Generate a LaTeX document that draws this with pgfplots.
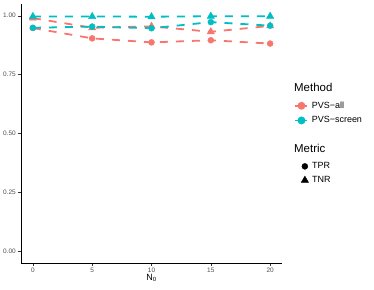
\documentclass[border=0pt]{standalone}
\usepackage{fontspec}
\setmainfont{Liberation Sans}
\usepackage{pgfplots}
\pgfplotsset{compat=1.18}
\usepackage{pgfplotstable}
\definecolor{cRed}{HTML}{F8766D}
\definecolor{cTeal}{HTML}{00BFC4}
\definecolor{gTick}{HTML}{4D4D4D}
\definecolor{gMark}{HTML}{333333}

\pgfplotstableread{
x tpr tnr
0 0.948 0.990
5 0.904 0.949
10 0.887 0.955
15 0.896 0.932
20 0.882 0.957
}\allData
\pgfplotstableread{
x tpr tnr
0 0.949 0.997
5 0.954 0.997
10 0.947 0.996
15 0.973 0.998
20 0.958 0.998
}\screenData

\begin{document}
\begin{tikzpicture}[x=1bp,y=1bp]
\useasboundingbox (0,0) rectangle (374,290);
\begin{axis}[
  at={(21bp,27bp)}, anchor=south west,
  scale only axis, width=261bp, height=259bp,
  xmin=-1, xmax=21, ymin=-0.05, ymax=1.05,
  axis x line*=bottom, axis y line*=left,
  axis line style={black, line width=0.8bp, -},
  xtick={0,5,10,15,20},
  ytick={0,0.25,0.5,0.75,1},
  yticklabels={0.00,0.25,0.50,0.75,1.00},
  tick align=outside, major tick length=2.7bp,
  tick style={gMark, line width=0.5bp},
  every tick label/.append style={font=\fontsize{6.5}{7}\selectfont, text=gTick},
  /pgf/number format/assume math mode=true,
  xticklabel style={yshift=1bp},
  yticklabel style={xshift=1bp},
  xlabel={N\textsubscript{0}},
  xlabel style={font=\fontsize{9}{10}\selectfont, yshift=5bp},
  legend style={draw=none, fill=none, at={(rel axis cs:1.036,0.631)}, anchor=north west,
    nodes={inner sep=0pt, text height=6.5bp, text depth=1.5bp, font=\fontsize{9}{10}\selectfont},
    row sep=6.7bp, column sep=3.5bp},
  legend cell align=left,
  legend image code/.code={\draw[mark repeat=2,mark phase=2,#1] plot coordinates {(0bp,0bp)(6bp,0bp)(12bp,0bp)};},
  clip=false,
]
\addlegendimage{cRed, solid, line width=1.8bp, mark=*, mark size=3bp}
\addlegendentry{PVS−all}
\addlegendimage{cTeal, solid, line width=1.8bp, mark=*, mark size=3bp}
\addlegendentry{PVS−screen}

\addplot[cRed, line width=1.8bp, dash pattern=on 8bp off 8bp, forget plot] table[x=x,y=tpr]{\allData};
\addplot[cRed, line width=1.8bp, dash pattern=on 8bp off 8bp, forget plot] table[x=x,y=tnr]{\allData};
\addplot[cTeal, line width=1.8bp, dash pattern=on 8bp off 8bp, forget plot] table[x=x,y=tpr]{\screenData};
\addplot[cTeal, line width=1.8bp, dash pattern=on 8bp off 8bp, forget plot] table[x=x,y=tnr]{\screenData};

\addplot[only marks, mark=*, mark size=3bp, cRed, forget plot] table[x=x,y=tpr]{\allData};
\addplot[only marks, mark=triangle*, mark size=4.2bp, cRed, forget plot] table[x=x,y=tnr]{\allData};
\addplot[only marks, mark=*, mark size=3bp, cTeal, forget plot] table[x=x,y=tpr]{\screenData};
\addplot[only marks, mark=triangle*, mark size=4.2bp, cTeal, forget plot] table[x=x,y=tnr]{\screenData};
\end{axis}

\begin{axis}[
  at={(21bp,27bp)}, anchor=south west,
  scale only axis, width=261bp, height=259bp,
  xmin=-1, xmax=21, ymin=-0.05, ymax=1.05,
  hide axis,
  legend style={draw=none, fill=none, at={(rel axis cs:1.044,0.397)}, anchor=north west,
    nodes={inner sep=0pt, text height=6.5bp, text depth=1.5bp, font=\fontsize{9}{10}\selectfont},
    row sep=5.7bp, column sep=1bp},
  legend cell align=left,
  legend image code/.code={\path[#1] plot coordinates {(8bp,0bp)}; \path (0bp,0bp) (14bp,0bp);},
]
\addlegendimage{black, mark=*, mark size=3bp}
\addlegendentry{TPR}
\addlegendimage{black, mark=triangle*, mark size=4.2bp}
\addlegendentry{TNR}
\end{axis}

\node[anchor=west, inner sep=0pt, font=\fontsize{11.5}{12}\selectfont] at (294,203) {Method};
\node[anchor=west, inner sep=0pt, font=\fontsize{11.5}{12}\selectfont] at (294,142) {Metric};
\end{tikzpicture}
\end{document}
